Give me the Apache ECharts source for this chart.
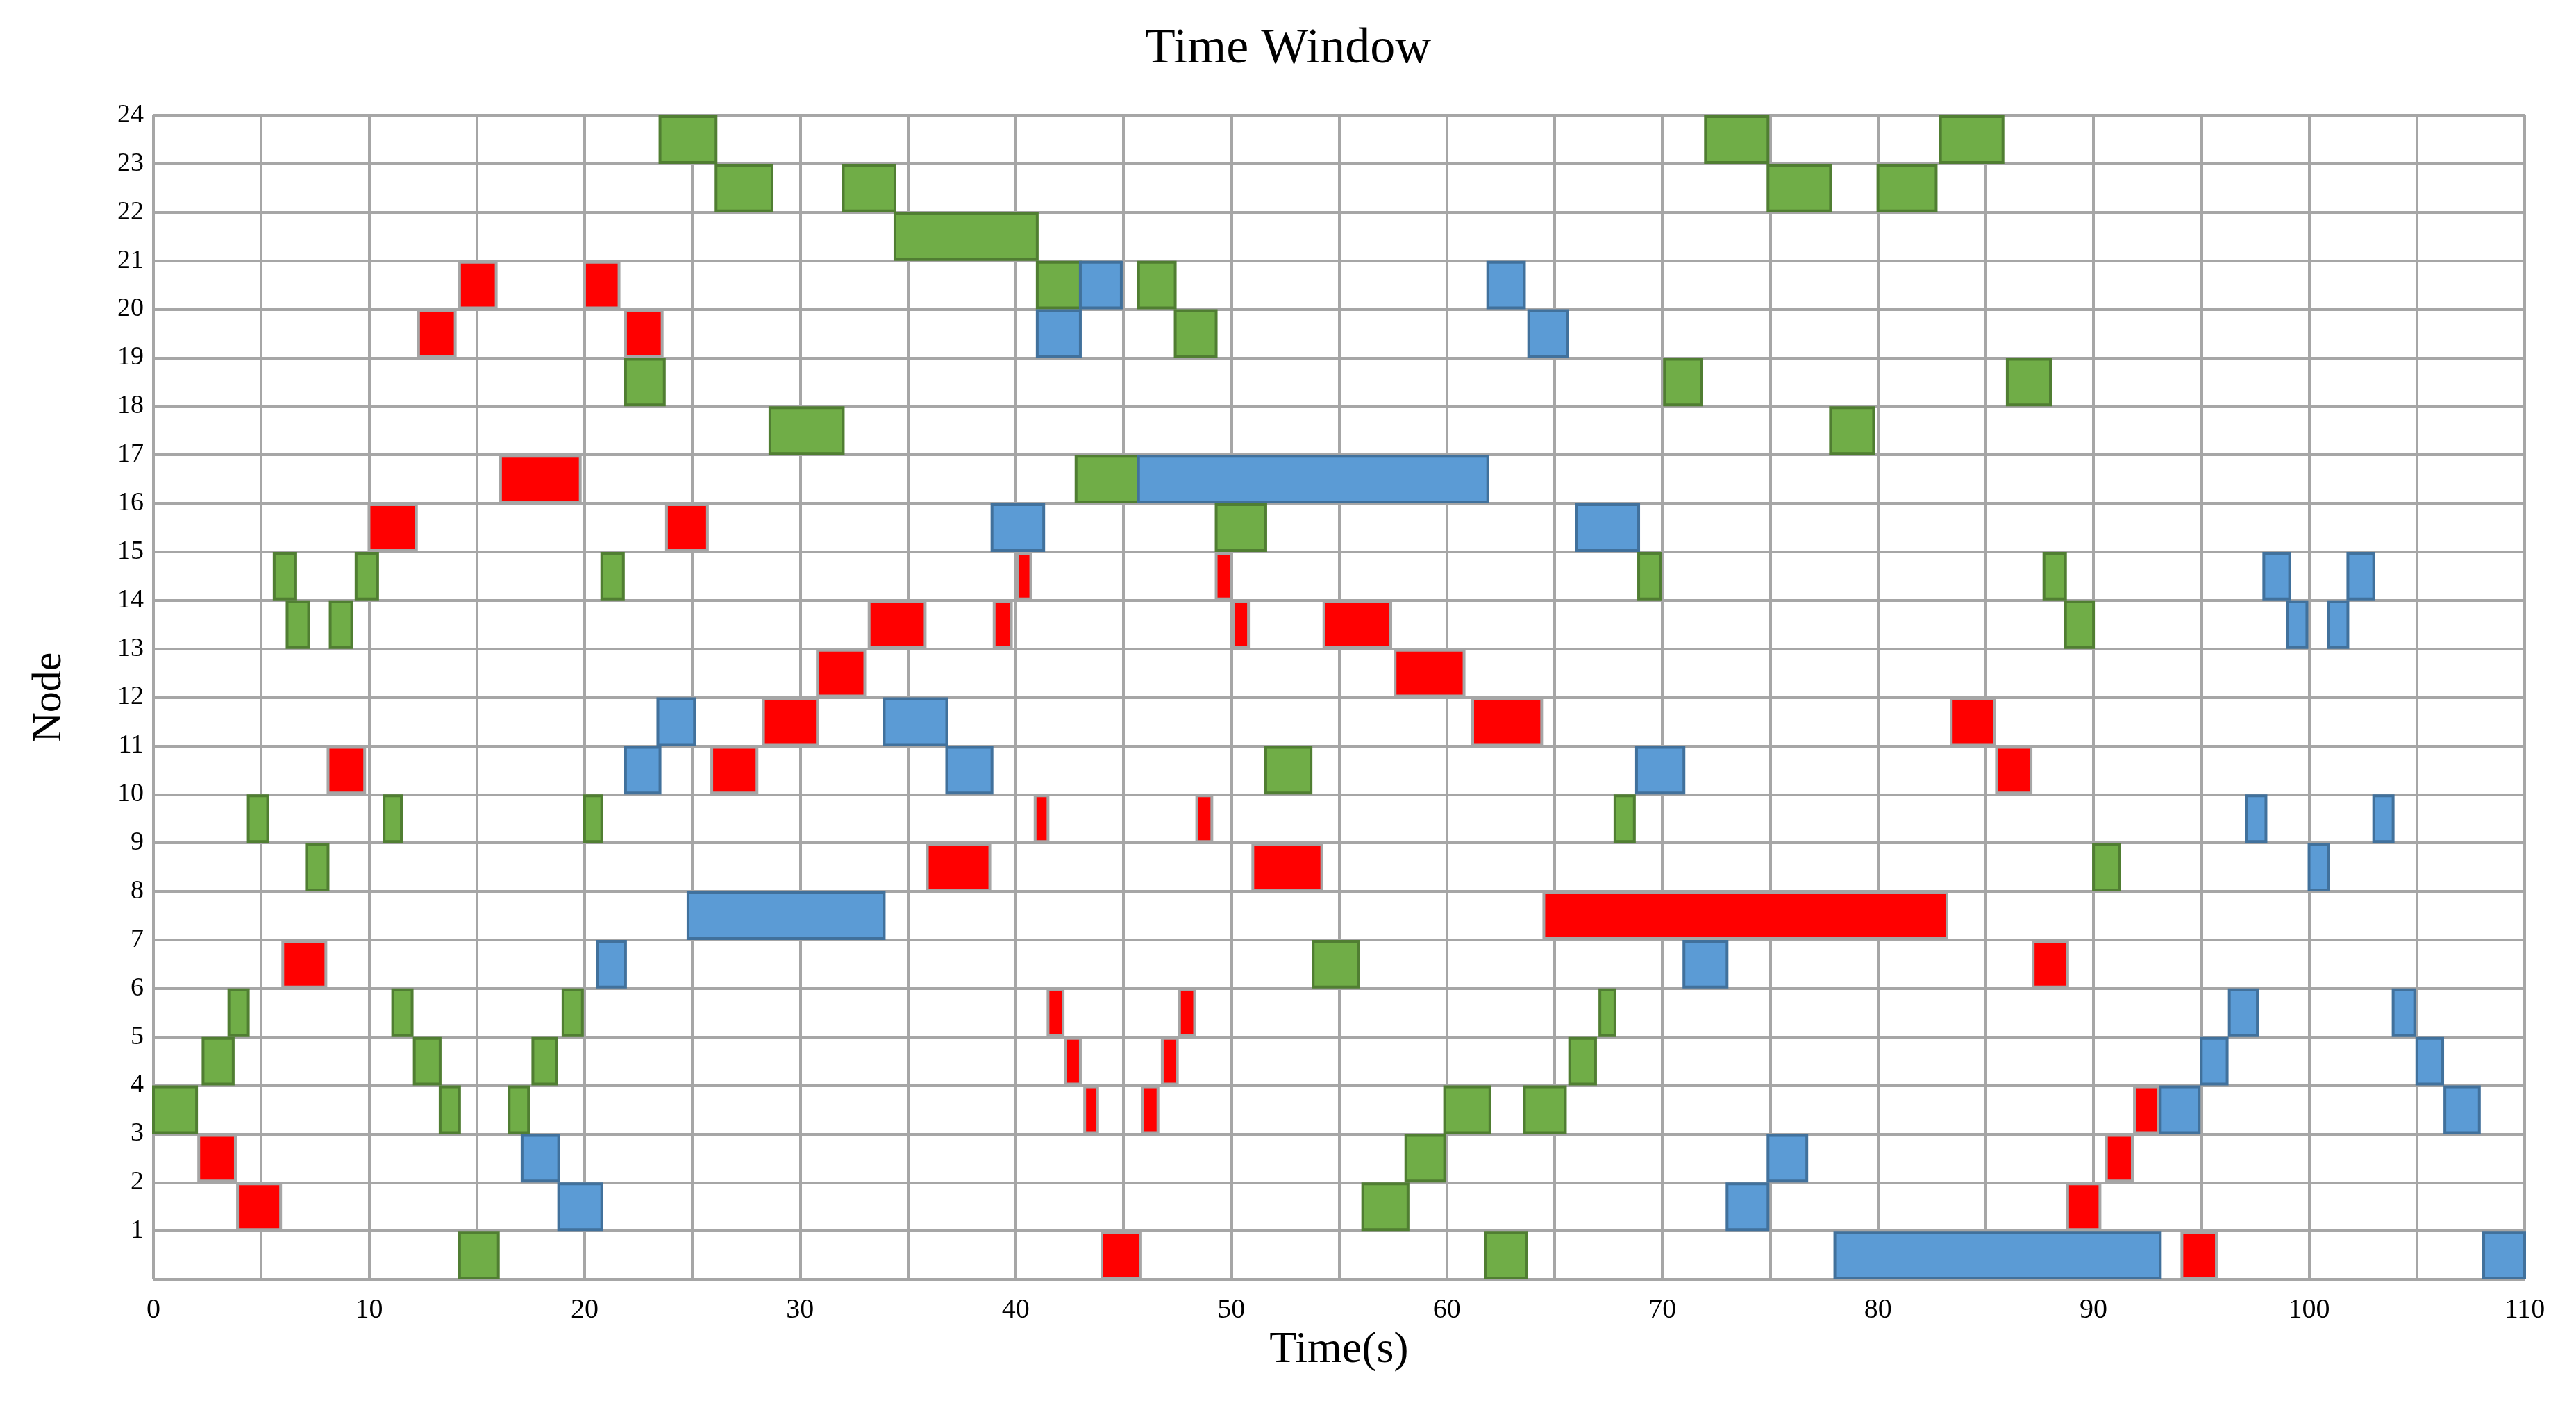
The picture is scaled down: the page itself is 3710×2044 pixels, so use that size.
<!DOCTYPE html>
<html>
<head>
<meta charset="utf-8">
<script src="https://cdn.jsdelivr.net/npm/echarts@6/dist/echarts.min.js"></script>
<style>
  html, body { margin: 0; padding: 0; background: #fff; }
  #chart { width: 3710px; height: 2044px; }
</style>
</head>
<body>
<div id="chart"></div>
<script>
// [node, start, end]
var redTasks = [
  [21, 14.2, 15.9], [21, 20.0, 21.6],
  [20, 12.3, 14.0], [20, 21.9, 23.6],
  [17, 16.1, 19.8],
  [16, 10.0, 12.2], [16, 23.8, 25.7],
  [15, 40.1, 40.7], [15, 49.3, 50.0],
  [14, 33.2, 35.8], [14, 39.0, 39.8], [14, 50.1, 50.8], [14, 54.3, 57.4],
  [13, 30.8, 33.0], [13, 57.6, 60.8],
  [12, 28.3, 30.8], [12, 61.2, 64.4], [12, 83.4, 85.4],
  [11, 8.1, 9.8], [11, 25.9, 28.0], [11, 85.5, 87.1],
  [10, 40.9, 41.5], [10, 48.4, 49.1],
  [9, 35.9, 38.8], [9, 51.0, 54.2],
  [8, 64.5, 83.2],
  [7, 6.0, 8.0], [7, 87.2, 88.8],
  [6, 41.5, 42.2], [6, 47.6, 48.3],
  [5, 42.3, 43.0], [5, 46.8, 47.5],
  [4, 43.2, 43.8], [4, 45.9, 46.6], [4, 91.9, 93.0],
  [3, 2.1, 3.8], [3, 90.6, 91.8],
  [2, 3.9, 5.9], [2, 88.8, 90.3],
  [1, 44.0, 45.8], [1, 94.1, 95.7]
];
var greenTasks = [
  [24, 23.5, 26.1], [24, 72.0, 74.9], [24, 82.9, 85.8],
  [23, 26.1, 28.7], [23, 32.0, 34.4], [23, 74.9, 77.8], [23, 80.0, 82.7],
  [22, 34.4, 41.0],
  [21, 41.0, 43.0], [21, 45.7, 47.4],
  [20, 47.4, 49.3],
  [19, 21.9, 23.7], [19, 70.1, 71.8], [19, 86.0, 88.0],
  [18, 28.6, 32.0], [18, 77.8, 79.8],
  [17, 42.8, 45.7],
  [16, 49.3, 51.6],
  [15, 5.6, 6.6], [15, 9.4, 10.4], [15, 20.8, 21.8], [15, 68.9, 69.9], [15, 87.7, 88.7],
  [14, 6.2, 7.2], [14, 8.2, 9.2], [14, 88.7, 90.0],
  [11, 51.6, 53.7],
  [10, 4.4, 5.3], [10, 10.7, 11.5], [10, 20.0, 20.8], [10, 67.8, 68.7],
  [9, 7.1, 8.1], [9, 90.0, 91.2],
  [7, 53.8, 55.9],
  [6, 3.5, 4.4], [6, 11.1, 12.0], [6, 19.0, 19.9], [6, 67.1, 67.8],
  [5, 2.3, 3.7], [5, 12.1, 13.3], [5, 17.6, 18.7], [5, 65.7, 66.9],
  [4, 0.0, 2.0], [4, 13.3, 14.2], [4, 16.5, 17.4], [4, 59.9, 62.0], [4, 63.6, 65.5],
  [3, 58.1, 59.9],
  [2, 56.1, 58.2],
  [1, 14.2, 16.0], [1, 61.8, 63.7]
];
var blueTasks = [
  [21, 43.0, 44.9], [21, 61.9, 63.6],
  [20, 41.0, 43.0], [20, 63.8, 65.6],
  [17, 45.7, 61.9],
  [16, 38.9, 41.3], [16, 66.0, 68.9],
  [15, 97.9, 99.1], [15, 101.8, 103.0],
  [14, 99.0, 99.9], [14, 100.9, 101.8],
  [12, 23.4, 25.1], [12, 33.9, 36.8],
  [11, 21.9, 23.5], [11, 36.8, 38.9], [11, 68.8, 71.0],
  [10, 97.1, 98.0], [10, 103.0, 103.9],
  [9, 100.0, 100.9],
  [8, 24.8, 33.9],
  [7, 20.6, 21.9], [7, 71.0, 73.0],
  [6, 96.3, 97.6], [6, 103.9, 104.9],
  [5, 95.0, 96.2], [5, 105.0, 106.2],
  [4, 93.1, 94.9], [4, 106.3, 107.9],
  [3, 17.1, 18.8], [3, 74.9, 76.7],
  [2, 18.8, 20.8], [2, 73.0, 74.9],
  [1, 78.0, 93.1], [1, 108.1, 110.0]
];

var FONT = '"Liberation Serif", "DejaVu Serif", serif';

function renderTask(params, api) {
  var node = api.value(0);
  var p1 = api.coord([api.value(1), node]);
  var p2 = api.coord([api.value(2), node - 1]);
  return {
    type: 'rect',
    shape: { x: p1[0], y: p1[1] + 2, width: p2[0] - p1[0], height: p2[1] - p1[1] - 4 },
    style: api.style()
  };
}

function taskSeries(name, data, fill, stroke) {
  return {
    name: name,
    type: 'custom',
    renderItem: renderTask,
    encode: { x: [1, 2], y: 0 },
    itemStyle: { color: fill, borderColor: stroke, borderWidth: 4 },
    data: data,
    z: 3
  };
}

var chart = echarts.init(document.getElementById('chart'));
chart.setOption({
  backgroundColor: '#fff',
  animation: false,
  title: {
    text: 'Time Window', left: 'center', top: 30,
    textStyle: { fontFamily: FONT, fontSize: 72, fontWeight: 'normal', color: '#000' }
  },
  grid: { left: 221, right: 74, top: 166, bottom: 201 },
  xAxis: {
    type: 'value', min: 0, max: 110, interval: 5,
    name: 'Time(s)', nameLocation: 'middle', nameGap: 70,
    nameTextStyle: { fontFamily: FONT, fontSize: 64, color: '#000' },
    axisLine: { show: false }, axisTick: { show: false },
    axisLabel: {
      fontFamily: FONT, fontSize: 40, color: '#000', margin: 24,
      formatter: function (v) { return v % 10 === 0 ? String(v) : ''; }
    },
    splitLine: { show: true, lineStyle: { color: '#A6A6A6', width: 4 } }
  },
  yAxis: {
    type: 'value', min: 0, max: 24, interval: 1,
    name: 'Node', nameLocation: 'middle', nameGap: 120, nameRotate: 90,
    nameTextStyle: { fontFamily: FONT, fontSize: 60, color: '#000' },
    axisLine: { show: false }, axisTick: { show: false },
    axisLabel: {
      fontFamily: FONT, fontSize: 38, color: '#000', margin: 14,
      formatter: function (v) { return v === 0 ? '' : String(v); }
    },
    splitLine: { show: true, lineStyle: { color: '#A6A6A6', width: 4 } }
  },
  series: [
    taskSeries('red', redTasks, '#FF0000', '#A6A6A6'),
    taskSeries('green', greenTasks, '#70AD47', '#507E32'),
    taskSeries('blue', blueTasks, '#5B9BD5', '#41719C')
  ]
});
</script>
</body>
</html>
